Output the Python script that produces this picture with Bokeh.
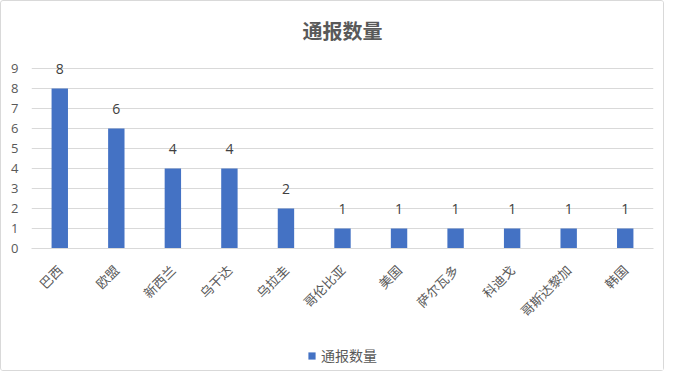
from bokeh.plotting import figure
from bokeh.models import ColumnDataSource, Range1d, FixedTicker, Legend, LegendItem, LabelSet
from bokeh.layouts import column
from bokeh.core.properties import value
from bokeh.embed import file_html
from bokeh.resources import INLINE
import math

categories = ["巴西", "欧盟", "新西兰", "乌干达", "乌拉圭", "哥伦比亚", "美国", "萨尔瓦多", "科迪戈", "哥斯达黎加", "韩国"]
counts = [8, 6, 4, 4, 2, 1, 1, 1, 1, 1, 1]
series_name = "通报数量"
y_ticks = list(range(0, 10))

CJK = "Noto Sans CJK SC"
NUM = "Open Sans"
BAR = "#4472C4"

src = ColumnDataSource(dict(cat=categories, val=counts, lbl=[str(v) for v in counts]))

p = figure(x_range=categories, y_range=Range1d(0, 9.6),
           frame_width=622, frame_height=192,
           output_backend="svg", toolbar_location=None,
           min_border_left=30, min_border_right=10, min_border_top=55, min_border_bottom=92)

p.title.text = series_name
p.title.align = "center"
p.title.text_font = CJK
p.title.text_font_size = "20px"
p.title.text_font_style = "bold"
p.title.text_color = "#595959"
p.title.standoff = 23

p.vbar(x="cat", top="val", width=0.29, source=src, color=BAR, line_color=None)

labels = LabelSet(x="cat", y="val", text="lbl", source=src, y_offset=15,
                  text_align="center", text_baseline="bottom",
                  text_font=value(NUM), text_font_size="14px", text_color="#404040")
p.add_layout(labels)

p.outline_line_color = None
p.background_fill_color = "white"
p.border_fill_color = "white"

p.ygrid.grid_line_color = "#d9d9d9"
p.xgrid.grid_line_color = None

p.yaxis.ticker = FixedTicker(ticks=y_ticks)
p.yaxis.axis_line_color = None
p.yaxis.major_tick_line_color = None
p.yaxis.minor_tick_line_color = None
p.yaxis.major_label_text_font = NUM
p.yaxis.major_label_text_font_size = "13px"
p.yaxis.major_label_text_color = "#595959"
p.yaxis.major_label_standoff = 7

p.xaxis.axis_line_color = "#d9d9d9"
p.xaxis.major_tick_line_color = None
p.xaxis.minor_tick_line_color = None
p.xaxis.major_label_orientation = math.pi / 4
p.xaxis.major_label_text_font = CJK
p.xaxis.major_label_text_font_size = "13px"
p.xaxis.major_label_text_color = "#595959"
p.xaxis.major_label_standoff = 13

# legend strip below the chart
lf = figure(width=662, height=30, output_backend="svg", toolbar_location=None,
            min_border=0, x_range=Range1d(0, 1), y_range=Range1d(0, 1))
lf.axis.visible = False
lf.grid.visible = False
lf.outline_line_color = None
lf.border_fill_color = "white"
lr = lf.vbar(x=[0.5], top=[0], bottom=[0], width=0.0, color=BAR, line_color=None)
legend = Legend(items=[LegendItem(label=series_name, renderers=[lr])],
                location="center", orientation="horizontal",
                label_text_font=CJK, label_text_font_size="14px", label_text_color="#595959",
                glyph_width=9, glyph_height=9, border_line_color=None, padding=2, margin=0,
                background_fill_alpha=0)
lf.add_layout(legend, "center")

layout = column(p, lf, spacing=0)
layout.styles = {"border": "1px solid #d9d9d9", "border-radius": "3px"}

open("out.html", "w").write(file_html(layout, INLINE))
